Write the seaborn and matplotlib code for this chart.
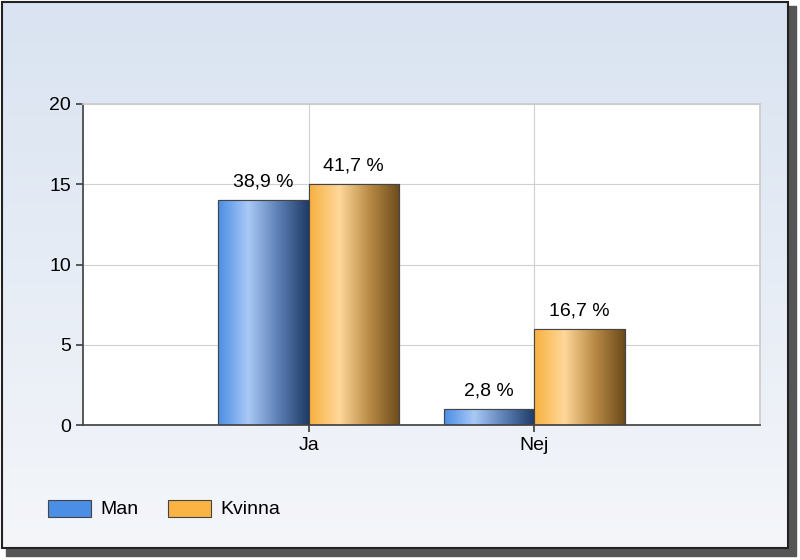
import matplotlib
matplotlib.use("Agg")
import matplotlib.pyplot as plt
import seaborn as sns
import numpy as np
import pandas as pd
from matplotlib.colors import LinearSegmentedColormap
from matplotlib.patches import Rectangle

categories = ["Ja", "Nej"]
series = ["Man", "Kvinna"]
man_values = [14, 1]
kvinna_values = [15, 6]
man_labels = ["38,9 %", "2,8 %"]
kvinna_labels = ["41,7 %", "16,7 %"]

df = pd.DataFrame({
    "cat": categories * 2,
    "series": [series[0]] * 2 + [series[1]] * 2,
    "val": man_values + kvinna_values,
})

sns.set_theme(style="white")
plt.rcParams['font.family'] = ['Liberation Sans', 'DejaVu Sans']
plt.rcParams['text.color'] = 'black'

fig = plt.figure(figsize=(8, 5.6), dpi=100)
fig.patch.set_facecolor("white")
bg = fig.add_axes([0, 0, 1, 1], zorder=-10)
bg.set_xlim(0, 800); bg.set_ylim(560, 0); bg.axis("off")
grad = np.linspace(0, 1, 256).reshape(-1, 1)
bgcmap = LinearSegmentedColormap.from_list("bg", ["#d9e3f1", "#f4f6fa"])
bg.add_patch(Rectangle((6, 6), 790, 550, color="#555555", zorder=0))
bg.imshow(grad, cmap=bgcmap, extent=(2, 788, 548, 2), aspect="auto", zorder=1)
bg.add_patch(Rectangle((2, 2), 786, 546, fill=False, ec="#222222", lw=1.5, zorder=2))

ax = fig.add_axes([83/800, 1-425/560, (760-83)/800, (425-104)/560])
ax.set_facecolor("white")
palette = {"Man": "#4a8ee6", "Kvinna": "#fbb444"}
sns.barplot(data=df, x="cat", y="val", hue="series", palette=palette, ax=ax,
            width=0.8, edgecolor="#444444", linewidth=0.8, legend=False)
ax.set_xlim(-1, 2)
ax.set_ylim(0, 20)
ax.set_yticks([0, 5, 10, 15, 20])
ax.set_xticks([0, 1]); ax.set_xticklabels(categories)
ax.set_xlabel(""); ax.set_ylabel("")
ax.grid(True, color="#d0d0d0", lw=0.8)
ax.set_axisbelow(True)
for s in ax.spines.values():
    s.set_color("#cccccc")
ax.spines["bottom"].set_color("#444444")
ax.spines["left"].set_color("#444444")
ax.tick_params(axis="both", labelsize=14, labelcolor="black", color="#444444",
               length=5, direction="out", bottom=True, left=True)

cmaps = {
    "Man": LinearSegmentedColormap.from_list("m", ["#4a8ee6", "#a9c8f5", "#5b7fb5", "#1f3a66"]),
    "Kvinna": LinearSegmentedColormap.from_list("k", ["#f8b040", "#ffd89a", "#b98a45", "#6b4a1c"]),
}
hgrad = np.linspace(0, 1, 256).reshape(1, -1)
labels = man_labels + kvinna_labels
for i, p in enumerate(list(ax.patches)):
    s = series[0] if i < 2 else series[1]
    x0, w, h = p.get_x(), p.get_width(), p.get_height()
    img = ax.imshow(hgrad, cmap=cmaps[s], extent=(x0, x0 + w, 0, h), aspect="auto", zorder=p.get_zorder() + 0.1)
    img.set_clip_path(p)
    ax.add_patch(Rectangle((x0, 0), w, h, fill=False, ec="#444444", lw=0.8, zorder=p.get_zorder() + 0.2))
    ax.text(x0 + w / 2, h + 0.6, labels[i], ha="center", va="bottom", fontsize=14, color="black")
ax.set_xlim(-1, 2); ax.set_ylim(0, 20)

for x, s in [(48, "Man"), (168, "Kvinna")]:
    bg.add_patch(Rectangle((x, 500), 43, 17, facecolor=palette[s], edgecolor="#444444", lw=0.8, zorder=3))
    bg.text(x + 52, 509, s, fontsize=14, va="center", color="black", zorder=3)

fig.savefig("out.png", dpi=100)
